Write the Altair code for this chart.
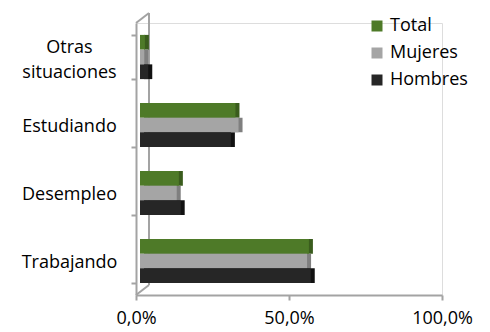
import altair as alt
import pandas as pd

categories = ["Trabajando", "Desempleo", "Estudiando", "Otras situaciones"]
series = ["Total", "Mujeres", "Hombres"]
total = [55.2, 12.7, 31.2, 1.6]
mujeres = [54.6, 12.0, 32.2, 1.4]
hombres = [55.8, 13.3, 29.7, 2.7]
x_ticks = [0, 50, 100]

front_colors = ["#4e7a28", "#a5a5a5", "#262626"]
side_colors = ["#3a5c1d", "#7f7f7f", "#111111"]
axis_gray = "#a3a3a3"
FONT = "Open Sans"
FS = 18

rows = []
for s, vals in zip(series, [total, mujeres, hombres]):
    for c, v in zip(categories, vals):
        rows.append({"categoria": c, "serie": s, "valor": v})
df = pd.DataFrame(rows)

y_order = list(reversed(categories))

yenc = alt.Y(
    "categoria:N",
    sort=y_order,
    scale=alt.Scale(paddingInner=0.35, paddingOuter=0.175),
    axis=alt.Axis(
        title=None,
        labelAlign="center",
        labelBaseline="middle",
        labelPadding=62,
        labelFont=FONT,
        labelFontSize=FS,
        labelColor="#000000",
        labelLineHeight=25,
        labelOffset={"condition": {"test": "datum.value == 'Otras situaciones'", "value": -10}, "value": 1},
        labelExpr="datum.value == 'Otras situaciones' ? ['Otras', 'situaciones'] : datum.value",
        tickBand="extent",
        tickSize=5,
        tickColor=axis_gray,
        tickWidth=2,
        domainColor=axis_gray,
        domainWidth=2,
        grid=False,
    ),
)
xenc = alt.X(
    "valor:Q",
    scale=alt.Scale(domain=[0, 100], nice=False),
    axis=alt.Axis(
        title=None,
        values=x_ticks,
        labelExpr="replace(format(datum.value, '.1f'), '.', ',') + '%'",
        labelFont=FONT,
        labelFontSize=FS,
        labelColor="#000000",
        labelPadding=9,
        tickSize=5,
        tickColor=axis_gray,
        tickWidth=2,
        domainColor=axis_gray,
        domainWidth=2,
        grid=False,
        labelFlush=False,
    ),
)
yoff = alt.YOffset("serie:N", sort=series, scale=alt.Scale(domain=series, paddingInner=0, paddingOuter=0))

side = alt.Chart(df).mark_bar(xOffset=8, yOffset=-5).encode(
    x=xenc,
    y=yenc,
    yOffset=yoff,
    color=alt.Color("serie:N", scale=alt.Scale(domain=series, range=side_colors), legend=None),
)

front = alt.Chart(df).mark_bar(xOffset=4, yOffset=-2).encode(
    x=xenc,
    y=yenc,
    yOffset=yoff,
    color=alt.Color(
        "serie:N",
        scale=alt.Scale(domain=series, range=front_colors),
        legend=alt.Legend(
            title=None,
            orient="none",
            legendX=232,
            legendY=-6,
            symbolType="square",
            symbolSize=121,
            symbolStrokeWidth=0,
            labelFont=FONT,
            labelFontSize=FS,
            labelColor="#000000",
            labelOffset=4,
            rowPadding=9,
            padding=0,
        ),
    ),
)

one = pd.DataFrame({"k": [0]})
wall_back = alt.Chart(one).mark_rule(color=axis_gray, strokeWidth=2).encode(
    x=alt.value(13), y=alt.value(-10), y2=alt.value(262)
)
wall_top = alt.Chart(one).mark_rule(color=axis_gray, strokeWidth=2).encode(
    x=alt.value(0), x2=alt.value(13), y=alt.value(0), y2=alt.value(-10)
)
wall_bottom = alt.Chart(one).mark_rule(color=axis_gray, strokeWidth=2).encode(
    x=alt.value(0), x2=alt.value(13), y=alt.value(272), y2=alt.value(262)
)

chart = (
    alt.layer(wall_back, wall_top, wall_bottom, side, front)
    .resolve_scale(color="independent")
    .properties(
        width=306,
        height=272,
        autosize=alt.AutoSizeParams(type="none"),
        padding={"left": 128, "top": 15, "right": 40, "bottom": 37},
    )
    .configure_view(strokeWidth=0)
    .configure(background="#ffffff")
)

chart.save("out.html", embed_options={"renderer": "svg", "actions": False})
